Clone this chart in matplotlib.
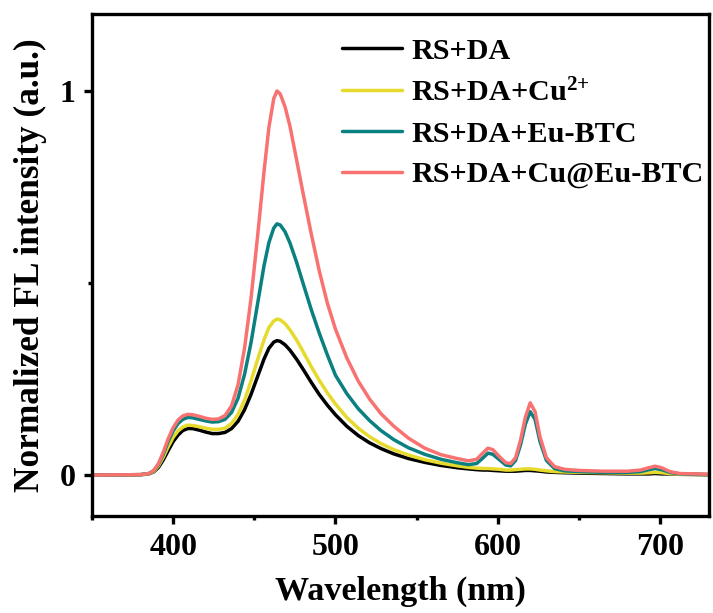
import matplotlib
matplotlib.use('Agg')
import matplotlib.pyplot as plt
from matplotlib.ticker import MultipleLocator

plt.rcParams['font.family'] = ['Liberation Serif', 'DejaVu Serif']
plt.rcParams['font.weight'] = 'bold'
plt.rcParams['mathtext.fontset'] = 'custom'
plt.rcParams['mathtext.rm'] = 'Liberation Serif:bold'
plt.rcParams['mathtext.bf'] = 'Liberation Serif:bold'
plt.rcParams['mathtext.default'] = 'bf'

# wavelength grid (nm)
wavelength = [350, 380, 385, 388, 391, 394, 397, 400, 403, 406, 409, 412, 416, 420, 424,
              428, 432, 436, 440, 444, 448, 452, 456, 459, 462, 464, 466, 469, 472, 476,
              480, 485, 490, 495, 500, 507, 514, 521, 528, 536, 545, 555, 565, 575, 582,
              587, 591, 594, 597, 601, 605, 608, 611, 614, 617, 620, 623, 626, 630, 635,
              641, 650, 665, 680, 688, 693, 697, 701, 706, 712, 730]

# RS+DA
rs_da = [0, 0.001, 0.003, 0.008, 0.020, 0.040, 0.064, 0.087, 0.104, 0.116, 0.121, 0.121,
         0.117, 0.112, 0.108, 0.108, 0.111, 0.121, 0.140, 0.170, 0.210, 0.256, 0.302,
         0.330, 0.346, 0.350, 0.348, 0.339, 0.325, 0.302, 0.276, 0.242, 0.210, 0.182,
         0.157, 0.127, 0.103, 0.084, 0.069, 0.055, 0.043, 0.033, 0.025, 0.019, 0.016,
         0.014, 0.013, 0.013, 0.012, 0.011, 0.010, 0.010, 0.010, 0.011, 0.012, 0.012,
         0.011, 0.010, 0.008, 0.007, 0.006, 0.005, 0.004, 0.003, 0.003, 0.003, 0.004,
         0.003, 0.003, 0.002, 0.001]

# RS+DA+Cu2+
rs_da_cu = [0, 0.001, 0.003, 0.009, 0.024, 0.047, 0.074, 0.098, 0.115, 0.125, 0.130,
            0.129, 0.126, 0.122, 0.119, 0.119, 0.122, 0.134, 0.158, 0.195, 0.245, 0.300,
            0.352, 0.384, 0.401, 0.406, 0.404, 0.394, 0.378, 0.352, 0.322, 0.283, 0.247,
            0.214, 0.185, 0.150, 0.122, 0.100, 0.082, 0.066, 0.052, 0.040, 0.031, 0.024,
            0.020, 0.018, 0.017, 0.017, 0.016, 0.015, 0.013, 0.013, 0.014, 0.015, 0.016,
            0.016, 0.015, 0.013, 0.011, 0.009, 0.008, 0.007, 0.006, 0.005, 0.005, 0.006,
            0.007, 0.006, 0.004, 0.002, 0.001]

# RS+DA+Eu-BTC
rs_da_eu = [0, 0.001, 0.004, 0.011, 0.028, 0.055, 0.088, 0.115, 0.134, 0.145, 0.150,
            0.149, 0.145, 0.141, 0.138, 0.139, 0.145, 0.163, 0.200, 0.262, 0.345, 0.445,
            0.545, 0.605, 0.643, 0.654, 0.651, 0.633, 0.604, 0.555, 0.500, 0.432, 0.370,
            0.313, 0.260, 0.212, 0.173, 0.142, 0.116, 0.092, 0.071, 0.054, 0.041, 0.032,
            0.027, 0.030, 0.045, 0.057, 0.054, 0.040, 0.026, 0.024, 0.038, 0.078, 0.132,
            0.165, 0.145, 0.088, 0.038, 0.017, 0.011, 0.009, 0.007, 0.007, 0.009, 0.014,
            0.017, 0.014, 0.007, 0.003, 0.001]

# RS+DA+Cu@Eu-BTC
rs_da_cu_eu = [0, 0.001, 0.004, 0.012, 0.030, 0.060, 0.095, 0.123, 0.143, 0.154, 0.158,
               0.157, 0.153, 0.148, 0.145, 0.146, 0.155, 0.180, 0.235, 0.330, 0.460,
               0.620, 0.790, 0.905, 0.980, 1.000, 0.992, 0.958, 0.908, 0.822, 0.735,
               0.630, 0.532, 0.448, 0.380, 0.305, 0.245, 0.198, 0.160, 0.127, 0.096,
               0.070, 0.053, 0.043, 0.037, 0.041, 0.058, 0.070, 0.066, 0.048, 0.032,
               0.030, 0.045, 0.090, 0.150, 0.188, 0.165, 0.100, 0.045, 0.022, 0.015,
               0.012, 0.010, 0.010, 0.013, 0.019, 0.023, 0.019, 0.009, 0.004, 0.002]

labels = ['RS+DA', 'RS+DA+Cu$^{2{+}}$', 'RS+DA+Eu-BTC', 'RS+DA+Cu@Eu-BTC']
colors = ['black', '#E6DA2C', '#0A8080', '#F97272']

fig = plt.figure(figsize=(7.13, 6.13), dpi=100)
ax = fig.add_axes([0.129, 0.158, 0.865, 0.819])

for ys, lab, c in zip([rs_da, rs_da_cu, rs_da_eu, rs_da_cu_eu], labels, colors):
    ax.plot(wavelength, ys, color=c, lw=2.5, label=lab,
            solid_joinstyle='round', solid_capstyle='round')

ax.set_xlim(350, 730)
ax.set_ylim(-0.107, 1.2)
ax.set_xticks([400, 500, 600, 700])
ax.xaxis.set_minor_locator(MultipleLocator(50))
ax.set_yticks([0, 1])
ax.set_yticklabels(['0', '1'])
ax.yaxis.set_minor_locator(MultipleLocator(0.5))

for sp in ax.spines.values():
    sp.set_linewidth(2.4)
ax.tick_params(which='major', length=6, width=2.4, labelsize=23, pad=6)
ax.tick_params(which='minor', length=3, width=2.4)

ax.set_xlabel('Wavelength (nm)', fontsize=24.6, fontweight='bold', labelpad=10)
ax.set_ylabel('Normalized FL intensity (a.u.)', fontsize=25.4, fontweight='bold', labelpad=9)

ax.legend(loc='upper left', bbox_to_anchor=(0.405, 0.953), frameon=False, fontsize=21.7,
          handlelength=2.0, handletextpad=0.3, labelspacing=0.45, borderpad=0,
          borderaxespad=0)

fig.savefig('out.png', dpi=100)
